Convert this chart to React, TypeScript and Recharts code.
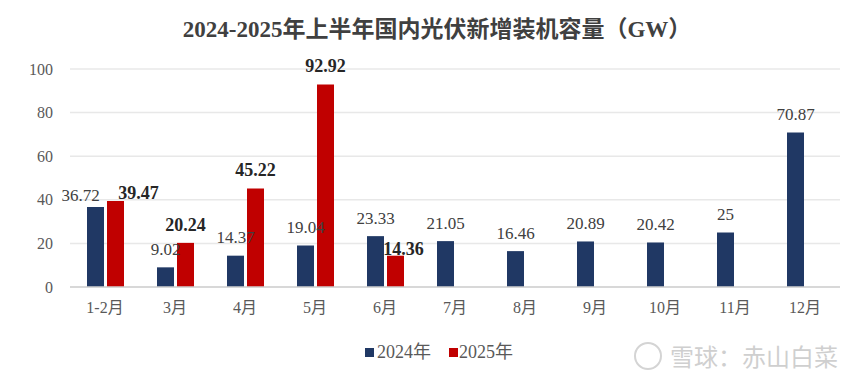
import { BarChart, Bar, XAxis, YAxis, CartesianGrid, LabelList } from "recharts";

const months = ["1-2月", "3月", "4月", "5月", "6月", "7月", "8月", "9月", "10月", "11月", "12月"];
const y2024 = [36.72, 9.02, 14.37, 19.04, 23.33, 21.05, 16.46, 20.89, 20.42, 25, 70.87];
const y2025 = [39.47, 20.24, 45.22, 92.92, 14.36, null, null, null, null, null, null];
const yTicks = [0, 20, 40, 60, 80, 100];

const data = months.map((m, i) => ({ month: m, a: y2024[i], b: y2025[i] }));

const FONT = '"Times New Roman", "Liberation Serif", "Noto Sans CJK SC", serif';
const NAVY = "#203864";
const RED = "#c00000";

// manual nudges for a few labels (dx, dy), like in the original
const shiftA: Record<number, [number, number]> = { 0: [-15, 7] };
const shiftB: Record<number, [number, number]> = { 0: [23, 10], 4: [8, 11] };

const makeLabel = (shift: Record<number, [number, number]>, bold: boolean) => (props: any) => {
  const { x, y, width, value, index } = props;
  if (value == null) return null;
  const [dx, dy] = shift[index] || [0, 0];
  return (
    <text
      x={x + width / 2 + dx}
      y={y - 18 + dy}
      textAnchor="middle"
      dominantBaseline="central"
      fontFamily={FONT}
      fontSize={bold ? 18 : 17}
      fontWeight={bold ? 700 : 400}
      fill={bold ? "#262626" : "#404040"}
    >
      {value}
    </text>
  );
};

export default function App() {
  return (
    <div style={{ position: "absolute", left: 0, top: 0, width: 862, height: 385, background: "#fff", fontFamily: FONT }}>
      <div
        style={{
          position: "absolute",
          top: 15,
          left: 0,
          width: 874,
          textAlign: "center",
          fontSize: 23,
          fontWeight: 700,
          color: "#404040",
          lineHeight: "30px",
        }}
      >
        2024-2025年上半年国内光伏新增装机容量（GW）
      </div>
      <BarChart
        width={862}
        height={385}
        data={data}
        margin={{ top: 69, right: 22, left: 0, bottom: 68 }}
        barSize={17}
        barGap={3}
      >
        <CartesianGrid vertical={false} stroke="#e8e8e8" strokeWidth={1.5} />
        <XAxis
          dataKey="month"
          tickLine={false}
          axisLine={{ stroke: "#d0d0d0", strokeWidth: 1.5 }}
          tickSize={0}
          tickMargin={15}
          tick={{ fontSize: 16, fill: "#595959", fontFamily: FONT }}
          height={30}
          interval={0}
        />
        <YAxis
          width={70}
          domain={[0, 100]}
          ticks={yTicks}
          axisLine={false}
          tickLine={false}
          tickSize={0}
          tickMargin={17}
          tick={{ fontSize: 16, fill: "#595959", fontFamily: FONT }}
        />
        <Bar dataKey="a" fill={NAVY} isAnimationActive={false}>
          <LabelList dataKey="a" content={makeLabel(shiftA, false)} />
        </Bar>
        <Bar dataKey="b" fill={RED} isAnimationActive={false}>
          <LabelList dataKey="b" content={makeLabel(shiftB, true)} />
        </Bar>
      </BarChart>
      <div style={{ position: "absolute", top: 341, left: 365, display: "flex", alignItems: "center", fontSize: 18, lineHeight: "22px", color: "#595959" }}>
        <span style={{ width: 9, height: 9, background: NAVY, display: "inline-block", marginRight: 3 }} />
        <span>2024年</span>
        <span style={{ width: 9, height: 9, background: RED, display: "inline-block", marginLeft: 18, marginRight: 1 }} />
        <span>2025年</span>
      </div>
      <div
        style={{
          position: "absolute",
          top: 338,
          left: 634,
          display: "flex",
          alignItems: "center",
          fontSize: 24,
          color: "#cfcfcf",
          fontFamily: '"Noto Sans CJK SC", sans-serif',
        }}
      >
        <span
          style={{
            width: 24,
            height: 24,
            borderRadius: "50%",
            border: "2px solid #d4d4d4",
            display: "inline-block",
            marginRight: 8,
          }}
        />
        <span>雪球：赤山白菜</span>
      </div>
    </div>
  );
}
